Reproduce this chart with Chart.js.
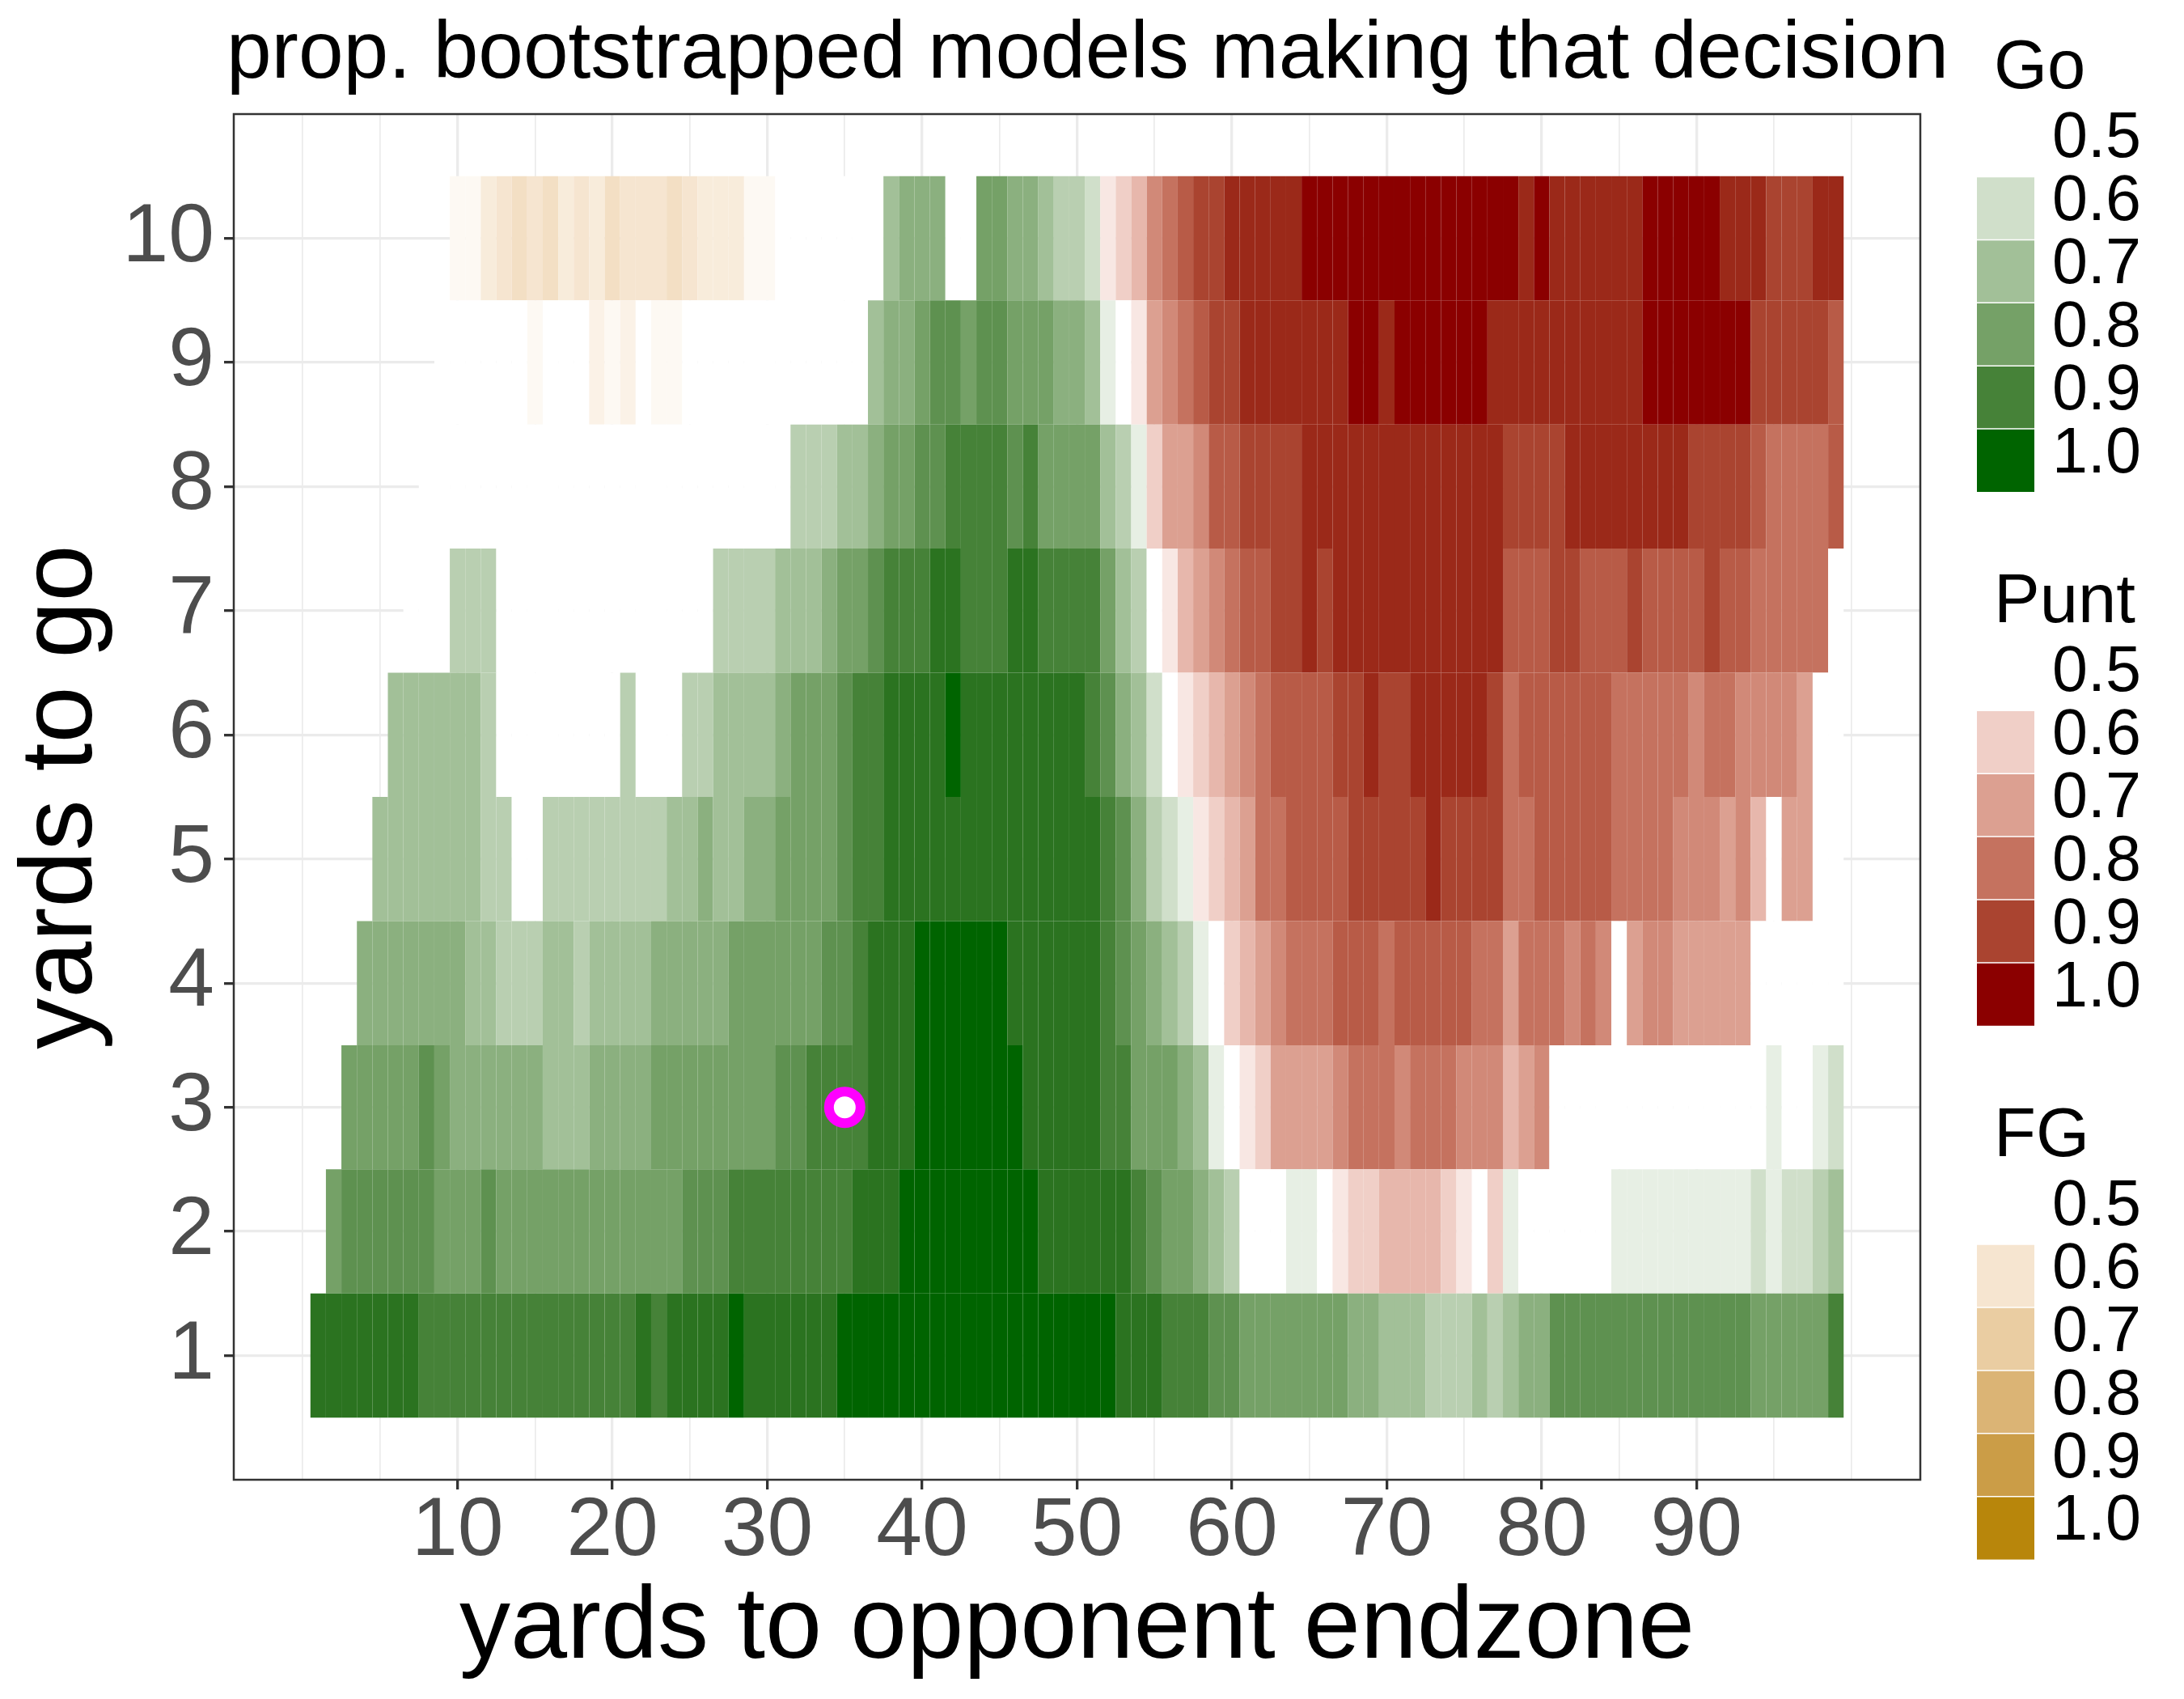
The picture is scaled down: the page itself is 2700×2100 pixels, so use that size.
<!DOCTYPE html>
<html>
<head>
<meta charset="utf-8">
<title>prop. bootstrapped models making that decision</title>
<script src="https://cdn.jsdelivr.net/npm/chart.js@4.4.1/dist/chart.umd.min.js"></script>
<style>
  html, body { margin: 0; padding: 0; background: #ffffff; }
  canvas { display: block; }
</style>
</head>
<body>
<canvas id="decisionChart" width="2700" height="2100" style="width:2700px;height:2100px"></canvas>
<script>
// One string per "yards to go" row, one character per yard to the opponent endzone (1..99).
//   '.'      no tile
//   a..k     Go,   proportion 0.50 .. 1.00 (steps of 0.05)
//   A..K     Punt, proportion 0.50 .. 1.00 (steps of 0.05)
//   0..9     FG,   proportion 0.500 .. 0.725 (steps of 0.025)
// Spaces only split the string into blocks of ten yards.
const row1  = 'jjjjjjjiii iiiiiiiiii ijijjjjkjj jjjjkkkkkk kkkkkkkkkk kkjjjiiihh gggggggffe eedddedeff hhhhhhhhhh hhhgggggi';
const row2  = '.ghhhhhhgg ghgggggggg gggghhhiii iiiiijjjkk kkkkkkkjjj jjjihggfed aaabbaBCCD DDDCBaCbaa aaaabbbbbb bbbcbccde';
const row3  = '..ggggghgf fffffeeeff ffgggggggg hhiiiijjjk kkkkkkjjjj jiigggfeba BCEEEEFGGG FGGGFFFDEF aaaaaaaaaa aaaabaabc';
const row4  = '...fffffff eedddeedee eefffffggg ggghhijjjk kkkkkjjjjj jihgfedbaC DEFGGGHHHG HHHHHGGEGG GFGFaEFFEE EEEaaaaaa';
const row5  = '....eeeeee eddaaddddd dddeefeeff gggghiijjj jjjjjjjjjj jihfdcbBCD EGGHHHHIII IIJIIIIGGH HHHHGGGGFF FEFDaEEaa';
const row6  = '.....eeeee edaaaaaaaa daaaddeeee fggghiijjj jkjjjjjjjj ihfecaBCDE FGHHHHIIJI IJJJJJIGHH HHHHGGGGGF GGFFFFEaa';
const row7  = '......aaad ddaaaaaaaa aaaaaadddd eeefgghiii jjiiijjiii igedaBDEFG HHIIJIJJJJ JJJJJJJHHH IIHHHIHHHH IHHGGGGGa';
const row8  = '.......aaa aaaaaaaaaa aaaaaaaaaa adddeefggh hiiiihiggg gedbCEEFHH IIIIJJJJJJ JJJJJJJIII IJJJJJJJJI IIIHGGGGH';
const row9  = '........aa aaa0100021 2a110aaaaa aaaaaaeffg hhghhgggff ebaBEFGHII JJJJJJJKKJ KKKKKKJJJJ JJJJJJKKKK KKKIIIIIH';
const row10 = '.........1 1345453435 4445433311 00aaaaaeff faaggffedd cBCDFGHIIJ JJJJKKKKKK KKKKKKKKJK JJJJJJKKKK KJJJIIIJJ';

const rowCodes = [row1, row2, row3, row4, row5, row6, row7, row8, row9, row10];
const yardsToGo = [1, 2, 3, 4, 5, 6, 7, 8, 9, 10];

const xGridBreaks = [0, 5, 10, 15, 20, 25, 30, 35, 40, 45, 50, 55, 60, 65, 70, 75, 80, 85, 90, 95, 100];
const xLabelledBreaks = [10, 20, 30, 40, 50, 60, 70, 80, 90];
const yTickValues = [1, 2, 3, 4, 5, 6, 7, 8, 9, 10];

const decisions = ['Go', 'Punt', 'FG'];
const legendLevels = [0.5, 0.6, 0.7, 0.8, 0.9, 1.0];
const highlightPlay = [{ x: 35, y: 3 }];

const fullColours = { Go: '#006400', Punt: '#8b0000', FG: '#b8860b' };
const FONT = "'Liberation Sans', Arial, Helvetica, sans-serif";

// --- colour ramp: white -> full colour, interpolated in CIE Lab like ggplot's gradient ---
const REF = [0.95047, 1, 1.08883];
function hexToRgb(hex) {
  const n = parseInt(hex.slice(1), 16);
  return [(n >> 16) & 255, (n >> 8) & 255, n & 255];
}
function toLinear(c) {
  c /= 255;
  return c <= 0.04045 ? c / 12.92 : Math.pow((c + 0.055) / 1.055, 2.4);
}
function toSrgb(c) {
  c = c <= 0.0031308 ? 12.92 * c : 1.055 * Math.pow(c, 1 / 2.4) - 0.055;
  return Math.round(Math.min(1, Math.max(0, c)) * 255);
}
function rgbToLab(rgb) {
  const [r, g, b] = rgb.map(toLinear);
  const f = t => (t > 0.008856 ? Math.cbrt(t) : 7.787 * t + 16 / 116);
  const fx = f((0.4124 * r + 0.3576 * g + 0.1805 * b) / REF[0]);
  const fy = f((0.2126 * r + 0.7152 * g + 0.0722 * b) / REF[1]);
  const fz = f((0.0193 * r + 0.1192 * g + 0.9505 * b) / REF[2]);
  return [116 * fy - 16, 500 * (fx - fy), 200 * (fy - fz)];
}
function labToRgb(lab) {
  const fy = (lab[0] + 16) / 116, fx = fy + lab[1] / 500, fz = fy - lab[2] / 200;
  const inv = t => (t > 0.206893 ? t * t * t : (t - 16 / 116) / 7.787);
  const x = inv(fx) * REF[0], y = inv(fy) * REF[1], z = inv(fz) * REF[2];
  return [
    toSrgb(3.2406 * x - 1.5372 * y - 0.4986 * z),
    toSrgb(-0.9689 * x + 1.8758 * y + 0.0415 * z),
    toSrgb(0.0557 * x - 0.2040 * y + 1.0570 * z)
  ];
}
const whiteLab = rgbToLab([255, 255, 255]);
const fullLab = {};
decisions.forEach(d => { fullLab[d] = rgbToLab(hexToRgb(fullColours[d])); });

function tileColour(decision, prop) {
  const t = Math.min(1, Math.max(0, (prop - 0.5) / 0.5));
  const end = fullLab[decision];
  const lab = whiteLab.map((w, i) => w + (end[i] - w) * t);
  const [r, g, b] = labToRgb(lab);
  return `rgb(${r}, ${g}, ${b})`;
}

function decodeRow(code, row) {
  const s = code.replace(/ /g, '');
  const cells = [];
  for (let i = 0; i < s.length; i++) {
    const ch = s[i];
    if (ch === '.') continue;
    let decision, prop;
    if (ch >= 'a' && ch <= 'k') {
      decision = 'Go';
      prop = 0.5 + 0.05 * (ch.charCodeAt(0) - 97);
    } else if (ch >= 'A' && ch <= 'K') {
      decision = 'Punt';
      prop = 0.5 + 0.05 * (ch.charCodeAt(0) - 65);
    } else {
      decision = 'FG';
      prop = 0.5 + 0.025 * Number(ch);
    }
    cells.push({ yard: i + 1, row, decision, prop });
  }
  return cells;
}

// --- one floating-bar dataset per row of tiles ---
const tileDatasets = rowCodes.map((code, i) => {
  const cells = decodeRow(code, yardsToGo[i]);
  return {
    type: 'bar',
    label: 'yards to go ' + yardsToGo[i],
    data: cells.map(c => ({ x: [c.yard - 0.5, c.yard + 0.5], y: c.row })),
    backgroundColor: cells.map(c => tileColour(c.decision, c.prop)),
    borderWidth: 0,
    inflateAmount: 0,
    grouped: false,
    barPercentage: 1,
    categoryPercentage: 1
  };
});

const pointDataset = {
  type: 'scatter',
  label: 'play',
  data: highlightPlay,
  pointRadius: 19.5,
  pointBorderWidth: 12,
  borderWidth: 12,
  borderColor: '#ff00ff',
  pointBorderColor: '#ff00ff',
  backgroundColor: '#ffffff',
  pointBackgroundColor: '#ffffff',
  order: -1
};

// --- fixed decorations: panel border, titles and the three stepped legends ---
const decorations = {
  id: 'decorations',
  afterDraw(chart) {
    const ctx = chart.ctx;
    const area = chart.chartArea;
    ctx.save();

    ctx.strokeStyle = '#333333';
    ctx.lineWidth = 2.5;
    ctx.strokeRect(area.left, area.top, area.right - area.left, area.bottom - area.top);

    ctx.fillStyle = '#000000';
    ctx.textBaseline = 'alphabetic';
    ctx.textAlign = 'left';
    ctx.font = `100px ${FONT}`;
    ctx.fillText('prop. bootstrapped models making that decision', 280, 96);

    ctx.textAlign = 'center';
    ctx.font = `126px ${FONT}`;
    ctx.fillText('yards to opponent endzone', (area.left + area.right) / 2, 2049);

    ctx.save();
    ctx.translate(113, (area.top + area.bottom) / 2);
    ctx.rotate(-Math.PI / 2);
    ctx.fillText('yards to go', 0, 0);
    ctx.restore();

    const keyLeft = 2444, keyWidth = 71, keyHeight = 77.9;
    const legendTops = [140.6, 800.4, 1460.2];
    decisions.forEach((d, li) => {
      const top = legendTops[li];
      ctx.fillStyle = '#000000';
      ctx.textAlign = 'left';
      ctx.textBaseline = 'alphabetic';
      ctx.font = `85px ${FONT}`;
      ctx.fillText(d, 2465, top - 31.6);

      legendLevels.forEach((lv, ki) => {
        const y = top + ki * keyHeight;
        ctx.fillStyle = tileColour(d, lv);
        ctx.fillRect(keyLeft, y, keyWidth, keyHeight);
      });
      ctx.strokeStyle = '#ffffff';
      ctx.lineWidth = 1.5;
      legendLevels.forEach((lv, ki) => {
        if (ki === 0) return;
        const y = top + ki * keyHeight;
        ctx.beginPath();
        ctx.moveTo(keyLeft, y);
        ctx.lineTo(keyLeft + keyWidth, y);
        ctx.stroke();
      });

      ctx.fillStyle = '#000000';
      ctx.textBaseline = 'middle';
      ctx.font = `79px ${FONT}`;
      legendLevels.forEach((lv, ki) => {
        const y = top + ki * keyHeight + keyHeight / 2 - 7;
        ctx.fillText(lv.toFixed(1), 2537, y);
      });
    });

    ctx.restore();
  }
};

Chart.defaults.font.family = FONT;

new Chart(document.getElementById('decisionChart'), {
  type: 'bar',
  data: { datasets: [...tileDatasets, pointDataset] },
  options: {
    indexAxis: 'y',
    responsive: false,
    maintainAspectRatio: false,
    animation: false,
    devicePixelRatio: 1,
    events: [],
    layout: { padding: { left: 0, right: 326, top: 141, bottom: 0 } },
    plugins: {
      legend: { display: false },
      tooltip: { enabled: false },
      title: { display: false }
    },
    scales: {
      x: {
        type: 'linear',
        min: -4.45,
        max: 104.45,
        offset: false,
        afterBuildTicks: scale => { scale.ticks = xGridBreaks.map(v => ({ value: v })); },
        afterFit: scale => { scale.height = 2100 - 1829; },
        border: { display: false },
        grid: {
          offset: false,
          color: '#ebebeb',
          lineWidth: c => (xLabelledBreaks.includes(c.tick.value) ? 3.3 : 1.7),
          drawTicks: true,
          tickLength: 12,
          tickWidth: 3.3,
          tickColor: c => (xLabelledBreaks.includes(c.tick.value) ? '#333333' : 'rgba(0,0,0,0)')
        },
        ticks: {
          autoSkip: false,
          maxRotation: 0,
          minRotation: 0,
          padding: 2,
          color: '#4d4d4d',
          font: { size: 102, lineHeight: 1 },
          callback: v => (xLabelledBreaks.includes(v) ? String(v) : '')
        }
      },
      y: {
        type: 'linear',
        min: 0,
        max: 11,
        offset: false,
        afterBuildTicks: scale => { scale.ticks = yTickValues.map(v => ({ value: v })); },
        afterFit: scale => { scale.width = 289; },
        border: { display: false },
        grid: {
          offset: false,
          color: '#ebebeb',
          lineWidth: 3.3,
          drawTicks: true,
          tickLength: 12,
          tickWidth: 3.3,
          tickColor: '#333333'
        },
        ticks: {
          padding: 12,
          color: '#4d4d4d',
          font: { size: 102, lineHeight: 1 },
          callback: v => String(v)
        }
      }
    }
  },
  plugins: [decorations]
});
</script>
</body>
</html>
